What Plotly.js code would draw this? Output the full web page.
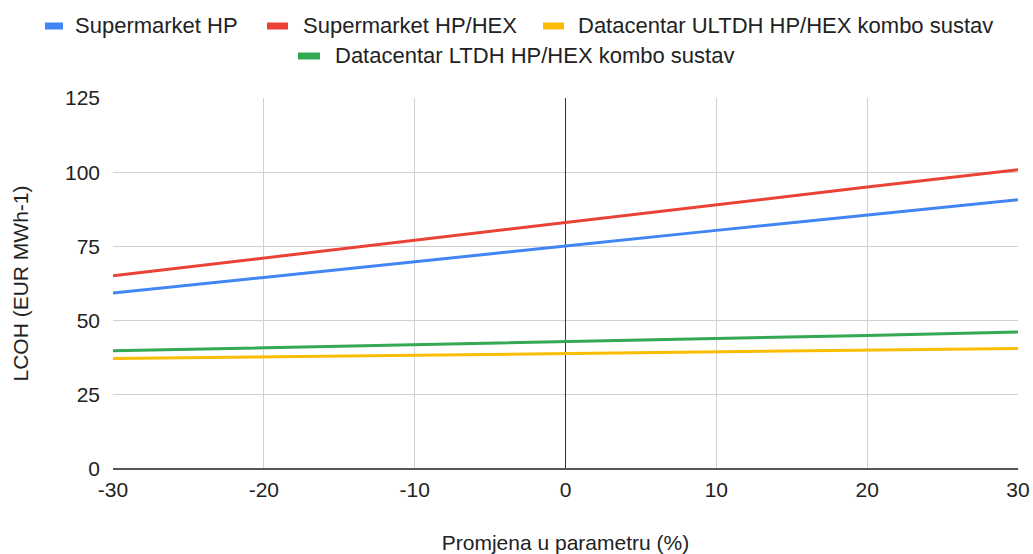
<!DOCTYPE html>
<html>
<head>
<meta charset="utf-8">
<script src="https://cdn.plot.ly/plotly-3.0.1.min.js"></script>
<style>html,body{margin:0;padding:0;background:#fff;}#chart{width:1033px;height:554px;}</style>
</head>
<body>
<div id="chart"></div>
<script>
const xValues = [-30, -20, -10, 0, 10, 20, 30];
const xTickLabels = ["-30", "-20", "-10", "0", "10", "20", "30"];
const yTickValues = [0, 25, 50, 75, 100, 125];
const supermarketHP = [59.3, 64.5, 69.8, 75.1, 80.4, 85.6, 90.7];
const supermarketHPHEX = [65.1, 71.1, 77.1, 83.1, 89.0, 95.0, 100.8];
const datacentarULTDH = [37.2, 37.8, 38.4, 39.0, 39.5, 40.0, 40.6];
const datacentarLTDH = [39.8, 40.8, 41.9, 43.0, 44.0, 45.0, 46.2];
const seriesNames = ["Supermarket HP", "Supermarket HP/HEX", "Datacentar ULTDH HP/HEX kombo sustav", "Datacentar LTDH HP/HEX kombo sustav"];
const seriesColors = ["#4285f4", "#ea4335", "#fbbc04", "#34a853"];
const seriesData = [supermarketHP, supermarketHPHEX, datacentarULTDH, datacentarLTDH];

const font = "Liberation Sans, Arial, sans-serif";
const W = 1033, H = 554, ML = 113, MR = 15, MT = 98, MB = 85;
const PW = W - ML - MR, PH = H - MT - MB;
const px2x = p => (p - ML) / PW;
const py2y = p => (H - MB - p) / PH;

const traces = seriesData.map((ys, i) => ({
  x: xValues, y: ys, type: "scatter", mode: "lines", name: seriesNames[i],
  line: {color: seriesColors[i], width: 3}, showlegend: false
}));

// custom legend layout: [swatch start, swatch end, text start, row center] in pixels
const legendPos = [[45, 63, 75, 25], [267, 288, 303, 25], [543, 564, 578, 25], [298, 320, 335, 55]];
const shapes = [], annotations = [];
legendPos.forEach(([s0, s1, tx, ly], i) => {
  shapes.push({type: "line", xref: "paper", yref: "paper",
    x0: px2x(s0), x1: px2x(s1), y0: py2y(ly + 1), y1: py2y(ly + 1),
    line: {color: seriesColors[i], width: 7}});
  annotations.push({xref: "paper", yref: "paper", x: px2x(tx - 2), y: py2y(ly),
    xanchor: "left", yanchor: "middle", showarrow: false, text: seriesNames[i],
    font: {family: font, size: 22, color: "#222"}});
});

const layout = {
  width: W, height: H,
  margin: {l: ML, r: MR, t: MT, b: MB},
  paper_bgcolor: "#fff", plot_bgcolor: "#fff",
  font: {family: font, size: 21, color: "#222"},
  showlegend: false,
  shapes, annotations,
  xaxis: {
    range: [-30, 30], tickvals: xValues, ticktext: xTickLabels,
    showgrid: true, gridcolor: "#d0d0d0", gridwidth: 1,
    zeroline: true, zerolinecolor: "#333", zerolinewidth: 1.5,
    showline: false, ticks: "", tickfont: {size: 21}, ticklabelstandoff: 6,
    title: {text: "Promjena u parametru (%)", font: {size: 21}, standoff: 36}
  },
  yaxis: {
    range: [0, 125], tickvals: yTickValues,
    showgrid: true, gridcolor: "#d0d0d0", gridwidth: 1,
    zeroline: true, zerolinecolor: "#555", zerolinewidth: 2,
    ticks: "", tickfont: {size: 21}, ticklabelstandoff: 12,
    title: {text: "LCOH (EUR MWh-1)", font: {size: 21}, standoff: 30}
  }
};
Plotly.newPlot("chart", traces, layout, {displayModeBar: false, staticPlot: true});
</script>
</body>
</html>
